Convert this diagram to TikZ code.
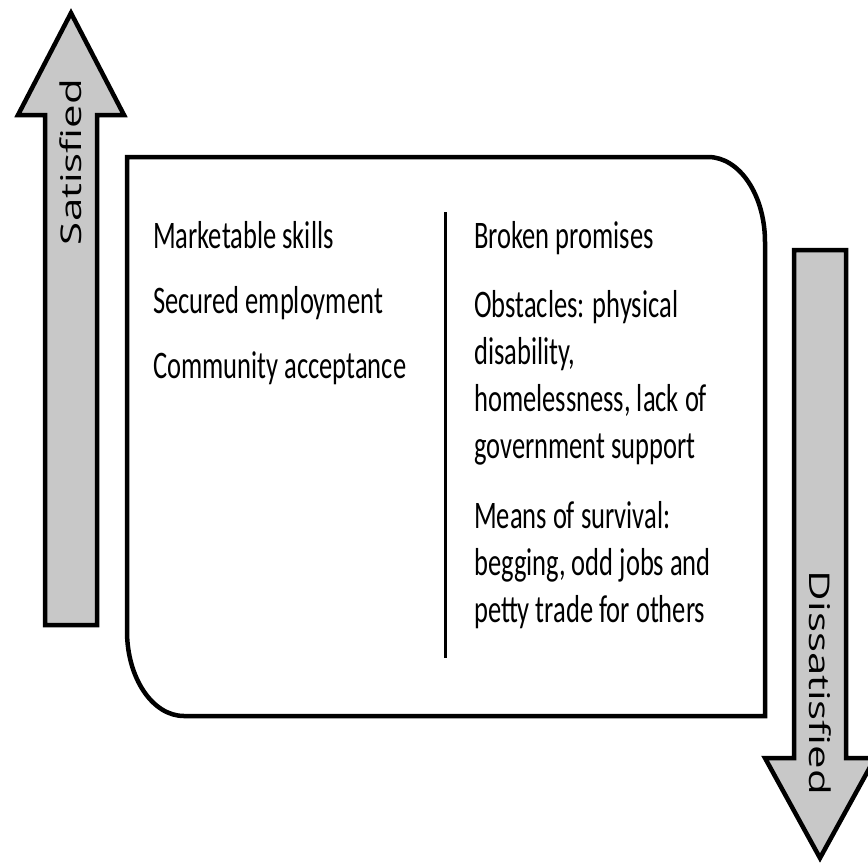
\documentclass[tikz,border=0pt]{standalone}
\usepackage{fontspec}
\setmainfont{Carlito}
\newfontfamily\arrowfont{Open Sans}
\usepackage{xcolor}
\definecolor{arrowgray}{RGB}{200,200,200}

\tikzset{
  bigarrow/.style={line width=4.5pt, fill=arrowgray, line join=miter},
  item/.style={font=\fontsize{39}{47}\selectfont, align=left, anchor=base west, inner sep=0pt, xscale=0.68},
  arrowlabel/.style={font=\arrowfont\fontsize{42}{50}\selectfont, inner sep=0pt, yscale=0.68}
}

\begin{document}
\begin{tikzpicture}[x=1pt,y=-1pt]
\useasboundingbox (0,0) rectangle (868,865);

% Draw arrow (left, up)
\draw [bigarrow] (45,625) -- (45,115) -- (18,115) -- (71,13) -- (124,115) -- (97,115) -- (97,625) -- cycle;
\node [rotate=90, arrowlabel] (sat) at (71,162) {Satisfied};

% Draw arrow (right, down)
\draw [bigarrow] (794,250) -- (846,250) -- (846,758) -- (875,758) -- (820,858) -- (765,758) -- (794,758) -- cycle;
\node [rotate=-90, arrowlabel] (dissat) at (820,683) {Dissatisfied};

% Draw box
\draw [line width=4.5pt] (127,157) -- (708,157) .. controls (739.5,157) and (765,195) .. (765,242)
  -- (765,716) -- (184,716) .. controls (152.5,716) and (127,678) .. (127,631) -- cycle;

% Divider
\coordinate (divtop) at (445,212);
\coordinate (divbot) at (445,658);
\draw [line width=3pt] (divtop) -- (divbot);

% Left column
\node [item] (skills) at (153,248) {Marketable skills};
\node [item] (employ) at (153,313) {Secured employment};
\node [item] (accept) at (153,378) {Community acceptance};

% Right column (base = last line)
\node [item] (promise) at (474,248) {Broken promises};
\node [item] (obstacle) at (474,458) {Obstacles: physical\\disability,\\homelessness, lack of\\government support};
\node [item] (survive) at (474,622) {Means of survival:\\begging, odd jobs and\\petty trade for others};
\end{tikzpicture}
\end{document}
